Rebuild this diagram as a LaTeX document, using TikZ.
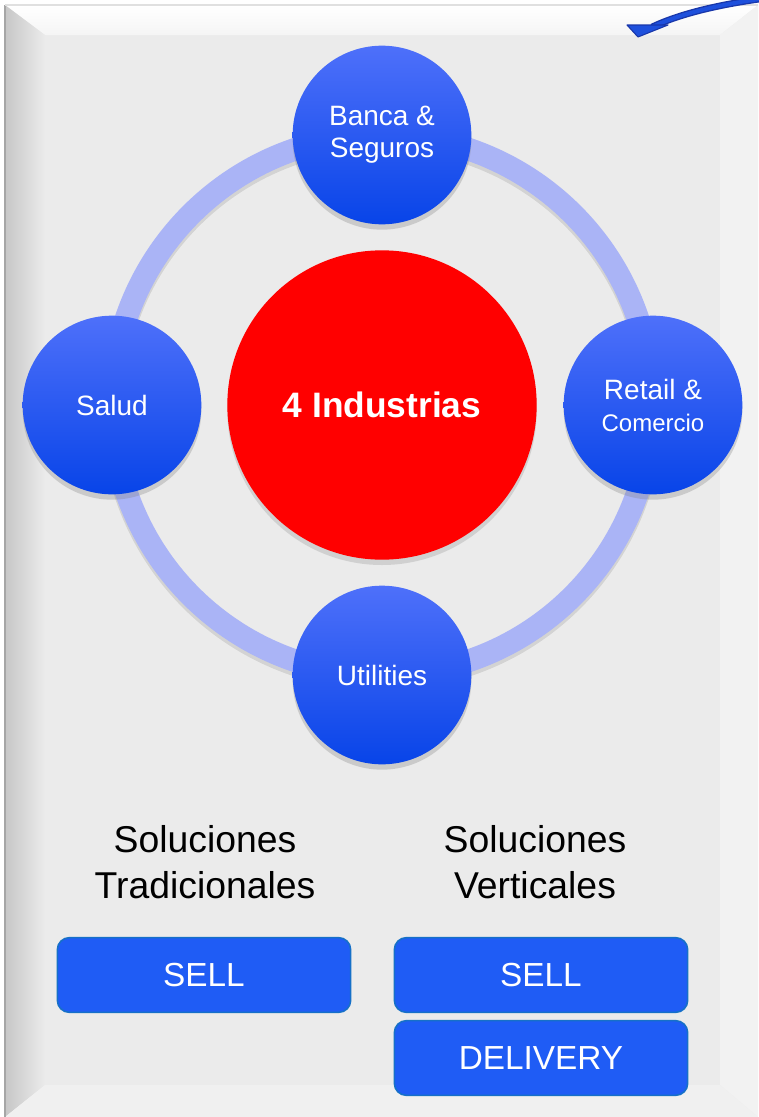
\documentclass[tikz,border=0pt]{standalone}
\usepackage{fontspec}
\setmainfont{Liberation Sans}
\usetikzlibrary{shadows}
\definecolor{ringc}{RGB}{170,180,246}
\definecolor{ctop}{RGB}{78,112,250}
\definecolor{cbot}{RGB}{8,68,232}
\definecolor{btnfill}{RGB}{31,92,245}
\definecolor{btnedge}{RGB}{22,112,200}
\definecolor{face}{RGB}{235,235,235}
\definecolor{arrowc}{RGB}{30,80,220}
\definecolor{arrowedge}{RGB}{25,55,170}
\tikzset{
  industry/.style={circle, minimum size=134pt, inner sep=0pt, align=center,
    top color=ctop, bottom color=cbot, text=white,
    font=\fontsize{21}{24}\selectfont,
    drop shadow={opacity=0.3, shadow xshift=0pt, shadow yshift=-4pt}},
  hub/.style={circle, minimum size=232pt, inner sep=0pt, fill=red, text=white,
    font=\fontsize{26.5}{30}\selectfont\bfseries,
    drop shadow={opacity=0.25, shadow xshift=0pt, shadow yshift=-4pt}},
  heading/.style={align=center, text=black, font=\fontsize{28}{34}\selectfont},
  button/.style={draw=btnedge, line width=1.2pt, fill=btnfill, rounded corners=9pt,
    minimum width=220pt, minimum height=56pt, inner sep=0pt, text=white,
    font=\fontsize{25}{30}\selectfont},
  ring/.style={draw=ringc, line width=17pt},
  ringshadow/.style={draw=black, draw opacity=0.1, line width=17pt}
}
\begin{document}
\begin{tikzpicture}[x=0.75pt,y=-0.75pt]
\useasboundingbox (0,0) rectangle (758,1117);
% panel with bevel
\fill[white] (0,0) rectangle (758,1117);
\fill[face] (5,5) rectangle (758,1117);
\shade[top color=white, bottom color=white!96!black] (5,5) -- (758,5) -- (720,35) -- (45,35) -- cycle;
\shade[left color=black!22, right color=face] (5,5) -- (45,35) -- (45,1085) -- (5,1117) -- cycle;
\fill[black!5] (758,5) -- (758,1117) -- (720,1085) -- (720,35) -- cycle;
\fill[black!6] (5,1117) -- (758,1117) -- (720,1085) -- (45,1085) -- cycle;
\draw[black!35, line width=1.2pt] (5,5) -- (5,1117);
\draw[black!12, line width=0.8pt] (5,5) -- (758,5);
% ring
\coordinate (ctr) at (382,405);
\coordinate (ctrs) at (382,409);
\draw[ringshadow] (ctrs) circle[radius=270];
\draw[ring] (ctr) circle[radius=270];
% nodes
\node[hub] (hub) at (ctr) {4 Industrias};
\node[industry] (banca) at (382,135) {Banca \&\\Seguros};
\node[industry] (salud) at (112,405) {Salud};
\node[industry] (retail) at (653,405) {Retail \&\\{\fontsize{18}{20}\selectfont Comercio}};
\node[industry] (util) at (382,675) {Utilities};
% headings
\node[heading] (trad) at (205,862) {Soluciones\\Tradicionales};
\node[heading] (vert) at (535,862) {Soluciones\\Verticales};
% buttons
\node[button] (sell1) at (204,975) {SELL};
\node[button] (sell2) at (541,975) {SELL};
\node[button] (deliv) at (541,1058) {DELIVERY};
% arrow at top right
\coordinate (astart) at (760,-1);
\coordinate (aend) at (652,27);
\draw[arrowedge, line width=5pt] (astart) .. controls (710,6) and (675,16) .. (aend);
\draw[arrowc, line width=3pt] (astart) .. controls (710,6) and (675,16) .. (aend);
\filldraw[fill=arrowc, draw=arrowedge, line width=0.8pt, line join=round] (627,25) -- (668,25) -- (638,37) -- cycle;
\end{tikzpicture}
\end{document}
